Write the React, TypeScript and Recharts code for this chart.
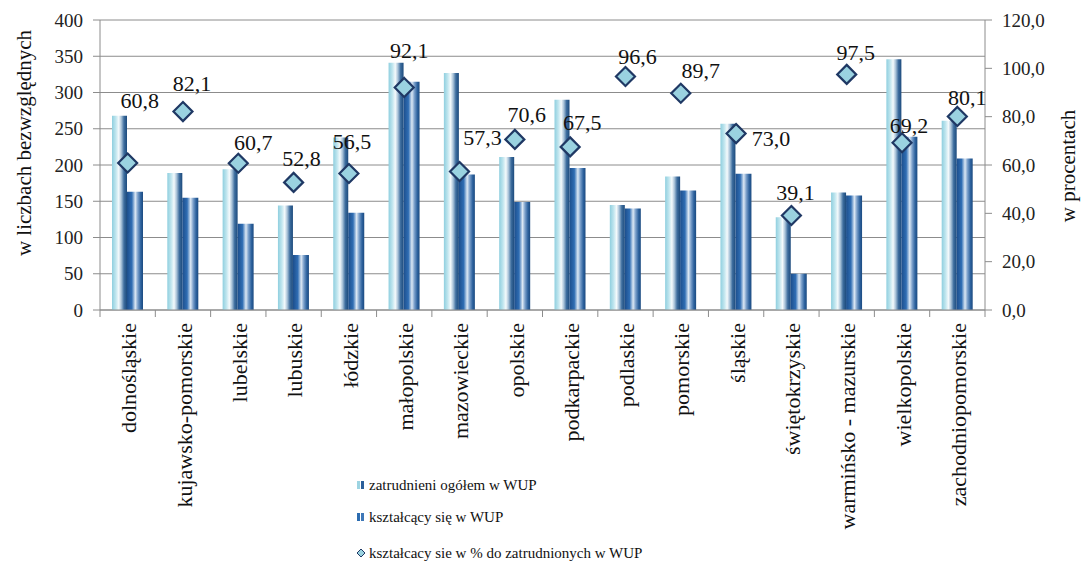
import React from 'react';
import {
  ComposedChart, Bar, Line, XAxis, YAxis, CartesianGrid, Legend, LabelList,
} from 'recharts';

const categories = [
  'dolnośląskie', 'kujawsko-pomorskie', 'lubelskie', 'lubuskie', 'łódzkie',
  'małopolskie', 'mazowieckie', 'opolskie', 'podkarpackie', 'podlaskie',
  'pomorskie', 'śląskie', 'świętokrzyskie', 'warmińsko - mazurskie',
  'wielkopolskie', 'zachodniopomorskie',
];
const zatrudnieni = [268, 189, 194, 144, 238, 341, 327, 211, 290, 145, 184, 257, 128, 162, 346, 261];
const ksztalcacy = [163, 155, 119, 76, 134, 315, 187, 149, 196, 140, 165, 188, 50, 158, 239, 209];
const procent = [60.8, 82.1, 60.7, 52.8, 56.5, 92.1, 57.3, 70.6, 67.5, 96.6, 89.7, 73.0, 39.1, 97.5, 69.2, 80.1];
const leftTicks = [0, 50, 100, 150, 200, 250, 300, 350, 400];
const rightTicks = [0, 20, 40, 60, 80, 100, 120];

const SERIES_NAMES = {
  total: 'zatrudnieni ogółem w WUP',
  learn: 'kształcący się w WUP',
  pct: 'kształcacy sie w % do zatrudnionych w WUP',
};

const data = categories.map((name, i) => ({
  name,
  total: zatrudnieni[i],
  learn: ksztalcacy[i],
  pct: procent[i],
}));

// label offsets (dx, dy) relative to marker centre — styling only
const LABEL_OFFSETS: [number, number][] = [
  [12, -63], [9, -28], [15, -21], [8, -24], [3, -32], [5, -37], [23, -34], [12, -25],
  [12, -24], [12, -20], [20, -23], [35, 5], [4, -23], [9, -22], [7, -17], [10, -19],
];

const W = 1083;
const H = 562;
const LEFT_W = 100;
const RIGHT_W = 98;
const PLOT_W = W - LEFT_W - RIGHT_W;
const FONT = "'Times New Roman', Times, 'Liberation Serif', 'DejaVu Serif', 'Noto Serif', serif";
const AXIS_COLOR = '#8c8c8c';

const fmt = (v: number) => v.toFixed(1).replace('.', ',');

const XTick = (props: any) => {
  const { x, y, payload, index } = props;
  const bw = PLOT_W / categories.length;
  const last = index === categories.length - 1;
  return (
    <g>
      <line x1={x - bw / 2} x2={x - bw / 2} y1={y} y2={y + 7} stroke={AXIS_COLOR} strokeWidth={1} />
      {last && <line x1={x + bw / 2} x2={x + bw / 2} y1={y} y2={y + 7} stroke={AXIS_COLOR} strokeWidth={1} />}
      <text
        transform={`translate(${x + 1},${y + 13}) rotate(-90)`}
        textAnchor="end"
        dy="0.35em"
        fontSize={22}
        style={{ fontFamily: FONT }}
        fill="#111"
      >
        {payload.value}
      </text>
    </g>
  );
};

const Diamond = (props: any) => {
  const { cx, cy } = props;
  if (cx == null || cy == null) return null;
  const r = 9.5;
  return (
    <polygon
      points={`${cx},${cy - r} ${cx + r},${cy} ${cx},${cy + r} ${cx - r},${cy}`}
      fill="#9ad2e0"
      stroke="#1f3864"
      strokeWidth={2.2}
    />
  );
};

const PctLabel = (props: any) => {
  const { x, y, value, index } = props;
  const [dx, dy] = LABEL_OFFSETS[index] || [0, -20];
  return (
    <text
      x={x + dx}
      y={y + dy}
      textAnchor="middle"
      dominantBaseline="central"
      fontSize={22}
      style={{ fontFamily: FONT }}
      fill="#111"
    >
      {fmt(value)}
    </text>
  );
};

const LegendContent = () => {
  const rowStyle: React.CSSProperties = {
    display: 'flex', alignItems: 'center', height: 18, fontFamily: FONT, fontSize: 15, color: '#111',
    whiteSpace: 'nowrap',
  };
  return (
    <div style={{ display: 'flex', flexDirection: 'column', gap: 14 }}>
      <div style={rowStyle}>
        <svg width={12} height={10} style={{ marginRight: 2 }}>
          <rect x={2} y={1} width={3} height={8} fill="#9dd4e2" />
          <rect x={6} y={1} width={3} height={8} fill="#2c5f9a" />
        </svg>
        {SERIES_NAMES.total}
      </div>
      <div style={rowStyle}>
        <svg width={12} height={10} style={{ marginRight: 2 }}>
          <rect x={2} y={1} width={3} height={8} fill="#2c6cb0" />
          <rect x={6} y={1} width={3} height={8} fill="#3f78b8" />
        </svg>
        {SERIES_NAMES.learn}
      </div>
      <div style={{ ...rowStyle, marginTop: 4 }}>
        <svg width={12} height={10} style={{ marginRight: 2 }}>
          <polygon points="6,1 10,5 6,9 2,5" fill="#9ad2e0" stroke="#1f3864" strokeWidth={1} />
        </svg>
        {SERIES_NAMES.pct}
      </div>
    </div>
  );
};

export default function App() {
  return (
    <div style={{ position: 'absolute', left: 0, top: 0, width: W, height: H, background: '#fff', fontFamily: FONT }}>
      <ComposedChart
        width={W}
        height={H}
        data={data}
        margin={{ top: 20, right: 0, bottom: 0, left: 0 }}
        barGap={0}
        barCategoryGap={12}
        style={{ fontFamily: FONT }}
      >
        <defs>
          <linearGradient id="gradTotal" x1="0" y1="0" x2="1" y2="0">
            <stop offset="0%" stopColor="#8fcfdf" />
            <stop offset="25%" stopColor="#bfe5ee" />
            <stop offset="45%" stopColor="#f4fafc" />
            <stop offset="62%" stopColor="#a8c2d8" />
            <stop offset="80%" stopColor="#3d6d9e" />
            <stop offset="100%" stopColor="#1c4a7c" />
          </linearGradient>
          <linearGradient id="gradLearn" x1="0" y1="0" x2="1" y2="0">
            <stop offset="0%" stopColor="#1c4e8c" />
            <stop offset="30%" stopColor="#2f6db3" />
            <stop offset="52%" stopColor="#dce8f4" />
            <stop offset="68%" stopColor="#7a9fca" />
            <stop offset="86%" stopColor="#2d629e" />
            <stop offset="100%" stopColor="#1b4a80" />
          </linearGradient>
        </defs>
        <CartesianGrid yAxisId="left" vertical={false} stroke={AXIS_COLOR} strokeWidth={1} />
        <XAxis
          dataKey="name"
          interval={0}
          height={252}
          tickLine={false}
          tickSize={0}
          tickMargin={0}
          axisLine={{ stroke: AXIS_COLOR }}
          tick={<XTick />}
        />
        <YAxis
          yAxisId="left"
          orientation="left"
          width={LEFT_W}
          domain={[0, 400]}
          ticks={leftTicks}
          tickSize={7}
          tickMargin={10}
          axisLine={{ stroke: AXIS_COLOR }}
          tickLine={{ stroke: AXIS_COLOR }}
          tick={{ fontSize: 19, fill: '#222', style: { fontFamily: FONT } }}
          label={{
            content: () => (
              <text
                transform="translate(31,143) rotate(-90)"
                textAnchor="middle"
                fontSize={21}
                style={{ fontFamily: FONT }}
                fill="#111"
              >
                w liczbach bezwzględnych
              </text>
            ),
          }}
        />
        <YAxis
          yAxisId="right"
          orientation="right"
          width={RIGHT_W}
          domain={[0, 120]}
          ticks={rightTicks}
          tickFormatter={fmt}
          tickSize={7}
          tickMargin={10}
          axisLine={{ stroke: AXIS_COLOR }}
          tickLine={{ stroke: AXIS_COLOR }}
          tick={{ fontSize: 19, fill: '#222', style: { fontFamily: FONT } }}
          label={{
            content: () => (
              <text
                transform="translate(1075,166) rotate(-90)"
                textAnchor="middle"
                fontSize={21}
                style={{ fontFamily: FONT }}
                fill="#111"
              >
                w procentach
              </text>
            ),
          }}
        />
        <Bar yAxisId="left" dataKey="total" name={SERIES_NAMES.total} fill="url(#gradTotal)" barSize={15} isAnimationActive={false} />
        <Bar yAxisId="left" dataKey="learn" name={SERIES_NAMES.learn} fill="url(#gradLearn)" barSize={16} isAnimationActive={false} />
        <Line
          yAxisId="right"
          dataKey="pct"
          name={SERIES_NAMES.pct}
          stroke="none"
          dot={<Diamond />}
          activeDot={false}
          isAnimationActive={false}
        >
          <LabelList dataKey="pct" content={<PctLabel />} />
        </Line>
        <Legend
          content={<LegendContent />}
          wrapperStyle={{ position: 'absolute', left: 355, top: 476, width: 400, height: 0, overflow: 'visible' }}
        />
      </ComposedChart>
    </div>
  );
}
